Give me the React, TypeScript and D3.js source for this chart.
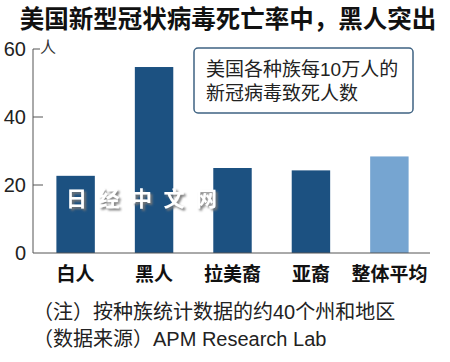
import { useRef, useEffect } from 'react';
import * as d3 from 'd3';

const categories = ['白人', '黑人', '拉美裔', '亚裔', '整体平均'];
const deathsPer100k = [22.7, 54.7, 25.0, 24.3, 28.4];
const yTicks = [0, 20, 40, 60];
const title = '美国新型冠状病毒死亡率中，黑人突出';
const legendLines = ['美国各种族每10万人的', '新冠病毒致死人数'];
const notes = ['（注）按种族统计数据的约40个州和地区', '（数据来源）APM Research Lab'];

const FONT = '"Noto Sans CJK SC", "Noto Sans", sans-serif';
// latin-first stack keeps line boxes compact, CJK falls back to Noto
const TEXT_FONT = '"Liberation Sans", "Noto Sans CJK SC", sans-serif';

function App() {
    const ref = useRef<SVGSVGElement>(null);

    useEffect(() => {
        d3.select(ref.current).selectAll('*').remove();
        const svg = d3.select(ref.current);

        const left = 33, right = 430, top = 49, bottom = 253;

        const x = d3.scaleBand()
            .domain(categories)
            .range([36, 429])
            .paddingInner(0.51)
            .paddingOuter(0.26);

        const y = d3.scaleLinear().domain([0, 60]).range([bottom, top]);

        const defs = svg.append('defs');
        defs.append('filter').attr('id', 'wmshadow')
            .append('feDropShadow')
            .attr('dx', 2).attr('dy', 2).attr('stdDeviation', 0.8)
            .attr('flood-color', '#777').attr('flood-opacity', 1);

        svg.append('text')
            .attr('x', 228).attr('y', 28)
            .attr('text-anchor', 'middle')
            .style('font-family', TEXT_FONT).style('font-weight', 'bold')
            .style('font-size', '24.5px').style('fill', '#111')
            .text(title);

        // bars
        svg.selectAll('.bar')
            .data(deathsPer100k)
            .enter().append('rect')
            .attr('x', (d, i) => x(categories[i]))
            .attr('y', d => y(d))
            .attr('width', x.bandwidth())
            .attr('height', d => bottom - y(d))
            .style('fill', (d, i) => i === categories.length - 1 ? '#76a5d1' : '#1c5181');

        // axes
        svg.append('line')
            .attr('x1', left).attr('x2', left).attr('y1', top).attr('y2', bottom)
            .style('stroke', '#555').style('stroke-width', 1);
        svg.append('line')
            .attr('x1', left).attr('x2', right).attr('y1', bottom).attr('y2', bottom)
            .style('stroke', '#555').style('stroke-width', 1);

        const ticks = svg.append('g');
        ticks.selectAll('line')
            .data(yTicks.filter(t => t > 0))
            .enter().append('line')
            .attr('x1', left).attr('x2', d => d === 60 ? left + 7 : left + 10)
            .attr('y1', d => y(d)).attr('y2', d => y(d))
            .style('stroke', '#555');
        ticks.selectAll('text')
            .data(yTicks)
            .enter().append('text')
            .attr('x', 26).attr('y', d => y(d))
            .attr('dy', '0.36em')
            .attr('text-anchor', 'end')
            .style('font-family', '"Liberation Sans Narrow", "Liberation Sans", sans-serif')
            .style('font-size', '20px').style('fill', '#222')
            .text(d => d);
        svg.append('text')
            .attr('x', 40).attr('y', y(60) - 1)
            .attr('dy', '0.3em')
            .style('font-family', TEXT_FONT).style('font-size', '16px').style('fill', '#333')
            .text('人');

        // category labels
        svg.selectAll('.cat')
            .data(categories)
            .enter().append('text')
            .attr('x', d => x(d) + x.bandwidth() / 2)
            .attr('y', 274)
            .attr('dy', '0.36em')
            .attr('text-anchor', 'middle')
            .style('font-family', FONT).style('font-weight', 'bold')
            .style('font-size', '19px').style('fill', '#111')
            .text(d => d);

        // legend box
        svg.append('rect')
            .attr('x', 194).attr('y', 48).attr('width', 219).attr('height', 65)
            .attr('rx', 4)
            .style('fill', '#fff').style('stroke', '#3f6383').style('stroke-width', 1.5);
        svg.selectAll('.leg')
            .data(legendLines)
            .enter().append('text')
            .attr('x', 206).attr('y', (d, i) => 69 + i * 24)
            .attr('dy', '0.36em')
            .style('font-family', TEXT_FONT).style('font-size', '19px').style('fill', '#222')
            .text(d => d);

        // watermark
        svg.append('text')
            .attr('x', 66).attr('y', 206)
            .attr('filter', 'url(#wmshadow)')
            .style('font-family', FONT).style('font-weight', 'bold')
            .style('font-size', '21px').style('letter-spacing', '11.5px')
            .style('fill', '#fff')
            .text('日经中文网');

        // notes
        svg.selectAll('.note')
            .data(notes)
            .enter().append('text')
            .attr('x', 33).attr('y', (d, i) => 312 + i * 27)
            .attr('dy', '0.36em')
            .style('font-family', TEXT_FONT).style('font-size', '20px').style('fill', '#222')
            .text(d => d);
    }, []);

    return <svg ref={ref} width={450} height={362} style={{ position: 'absolute', left: 0, top: 0 }} />;
}

export default App;
